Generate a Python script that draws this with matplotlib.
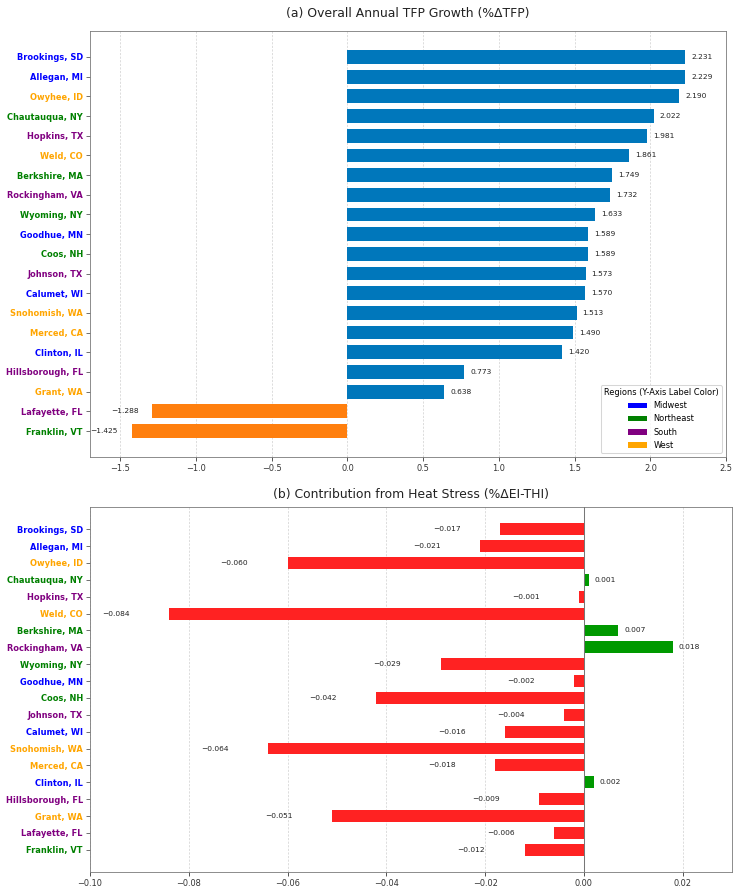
import matplotlib
matplotlib.use("Agg")
import matplotlib.pyplot as plt
from matplotlib.patches import Patch

counties = ["Brookings, SD", "Allegan, MI", "Owyhee, ID", "Chautauqua, NY", "Hopkins, TX",
            "Weld, CO", "Berkshire, MA", "Rockingham, VA", "Wyoming, NY", "Goodhue, MN",
            "Coos, NH", "Johnson, TX", "Calumet, WI", "Snohomish, WA", "Merced, CA",
            "Clinton, IL", "Hillsborough, FL", "Grant, WA", "Lafayette, FL", "Franklin, VT"]
regions = ["Midwest", "Midwest", "West", "Northeast", "South",
           "West", "Northeast", "South", "Northeast", "Midwest",
           "Northeast", "South", "Midwest", "West", "West",
           "Midwest", "South", "West", "South", "Northeast"]
tfp = [2.231, 2.229, 2.190, 2.022, 1.981, 1.861, 1.749, 1.732, 1.633, 1.589,
       1.589, 1.573, 1.570, 1.513, 1.490, 1.420, 0.773, 0.638, -1.288, -1.425]
heat = [-0.017, -0.021, -0.060, 0.001, -0.001, -0.084, 0.007, 0.018, -0.029, -0.002,
        -0.042, -0.004, -0.016, -0.064, -0.018, 0.002, -0.009, -0.051, -0.006, -0.012]
region_names = ["Midwest", "Northeast", "South", "West"]
region_colors = {"Midwest": "blue", "Northeast": "green", "South": "purple", "West": "orange"}

fig = plt.figure(figsize=(10, 889 / 73.9), dpi=73.9)
ax1 = fig.add_axes([90 / 739, 1 - 457 / 889, (726 - 90) / 739, (457 - 31) / 889])
ax2 = fig.add_axes([90 / 739, 1 - 872 / 889, (732 - 90) / 739, (872 - 507) / 889])

ypos = list(range(len(counties)))

# Panel (a)
c1 = ["#0077bb" if v >= 0 else "#ff7f0e" for v in tfp]
ax1.barh(ypos, tfp, height=0.7, color=c1, zorder=3)
for y, v in zip(ypos, tfp):
    if v >= 0:
        ax1.text(v + 0.04, y, f"{v:.3f}", va="center", ha="left", fontsize=7.3, color="#222222")
    else:
        ax1.text(v - 0.09, y, f"{v:.3f}".replace("-", "\u2212"), va="center", ha="right",
                 fontsize=7.3, color="#222222")
ax1.set_xlim(-1.70, 2.5)
ax1.set_ylim(len(counties) - 1 + 1.32, -1.32)
ax1.set_title("(a) Overall Annual TFP Growth (%\u0394TFP)", fontsize=12, color="#222222", pad=14)

# Panel (b)
c2 = ["#009900" if v > 0 else "#ff2222" for v in heat]
ax2.barh(ypos, heat, height=0.7, color=c2, zorder=3)
ax2.axvline(0, color="#777777", linewidth=1.0, zorder=4)
for y, v in zip(ypos, heat):
    if v > 0:
        ax2.text(v + 0.0012, y, f"{v:.3f}", va="center", ha="left", fontsize=7.3, color="#222222")
    else:
        ax2.text(v - 0.008, y, f"{v:.3f}".replace("-", "\u2212"), va="center", ha="right",
                 fontsize=7.3, color="#222222")
ax2.set_xlim(-0.10, 0.03)
ax2.set_ylim(len(counties) - 1 + 1.32, -1.32)
ax2.set_title("(b) Contribution from Heat Stress (%\u0394EI-THI)", fontsize=12, color="#222222", pad=9)

for ax in (ax1, ax2):
    ax.set_yticks(ypos)
    ax.set_yticklabels(counties, fontsize=8, fontweight="bold")
    ax.tick_params(axis="x", labelsize=8, colors="#333333")
    ax.tick_params(axis="y", colors="#555555")
    for lbl, r in zip(ax.get_yticklabels(), regions):
        lbl.set_color(region_colors[r])
    ax.grid(axis="x", linestyle=(0, (3, 2)), color="#d0d0d0", linewidth=0.7, zorder=0)
    for s in ax.spines.values():
        s.set_color("#777777")

handles = [Patch(facecolor=region_colors[r], label=r) for r in region_names]
leg = ax1.legend(handles=handles, title="Regions (Y-Axis Label Color)", loc="lower right",
                 fontsize=8, title_fontsize=8, handlelength=2.3)

fig.savefig("out.png", dpi=73.9)
